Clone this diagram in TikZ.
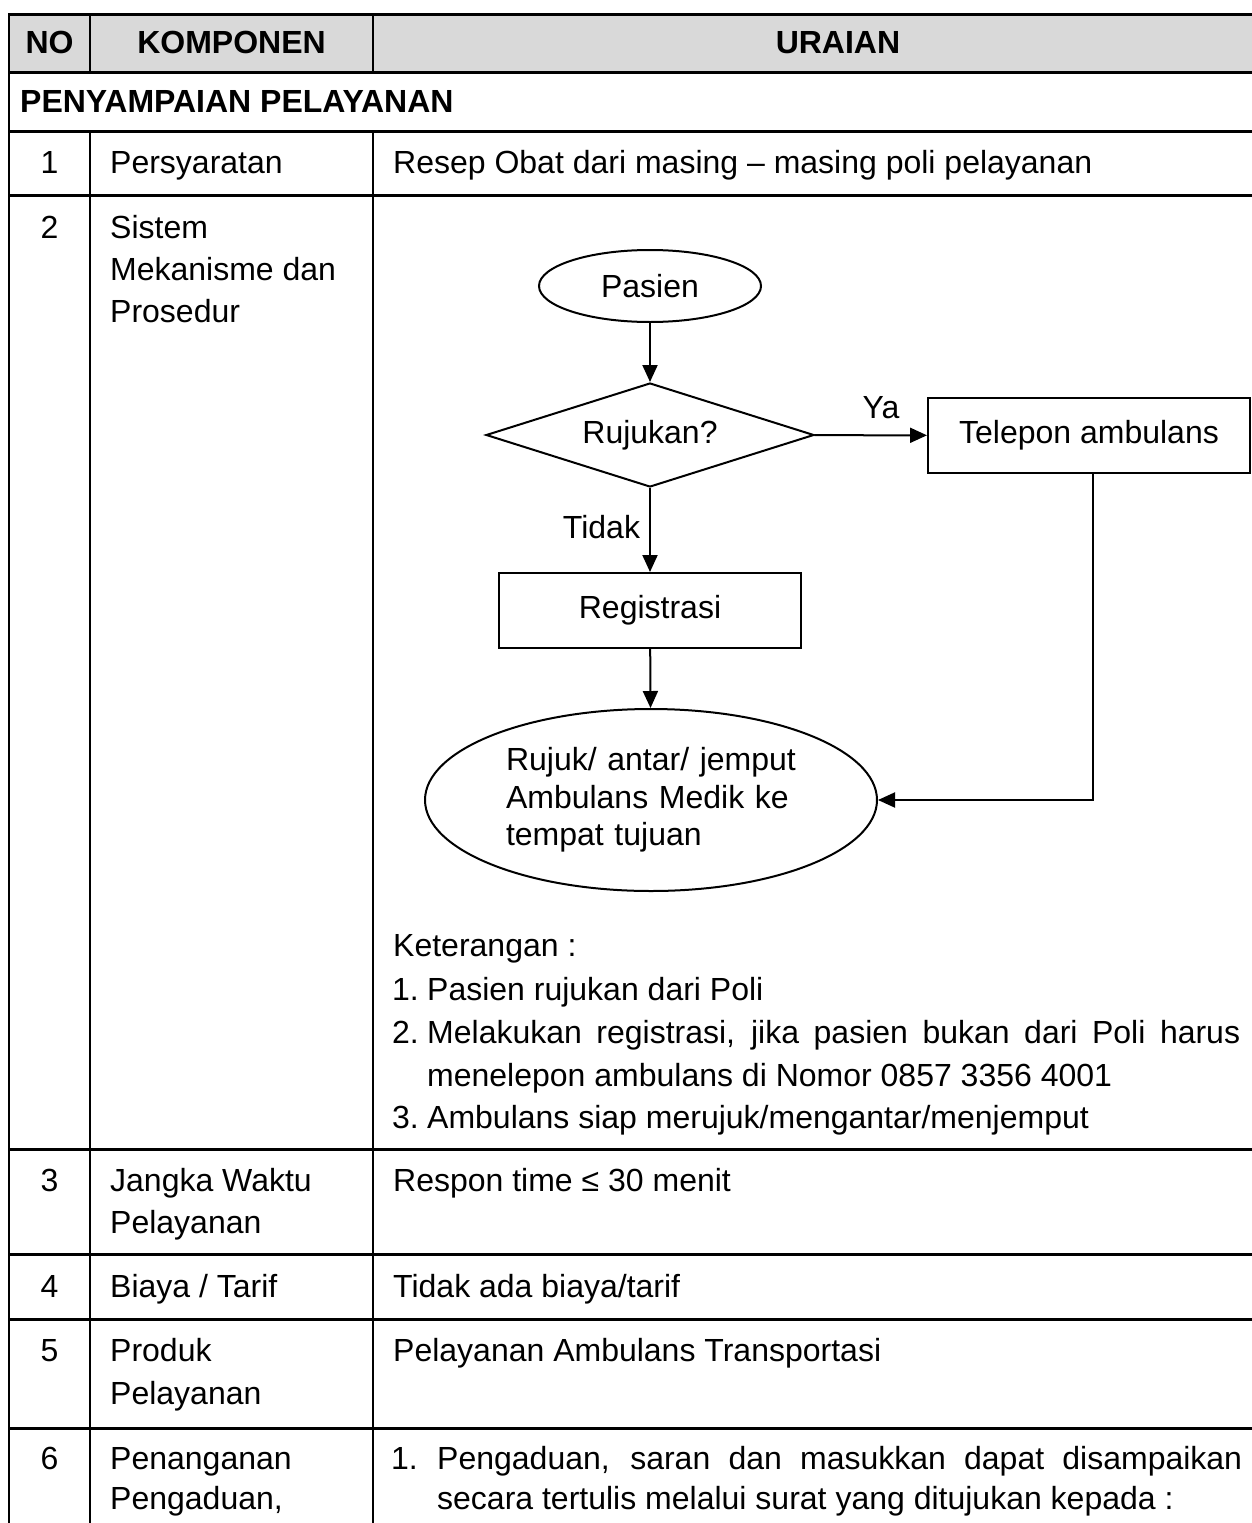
\documentclass[tikz,border=0pt]{standalone}
\usepackage{fontspec}
\setmainfont{Liberation Sans}
\usetikzlibrary{shapes.geometric,arrows.meta}
\definecolor{headgray}{HTML}{D9D9D9}

\begin{document}
\begin{tikzpicture}[x=1pt,y=-1pt,
  body/.style={inner sep=0pt, font=\fontsize{32pt}{37.5pt}\selectfont},
  txt/.style={body, anchor=base west},
  num/.style={body, anchor=base},
  hdr/.style={inner sep=0pt, anchor=base, font=\fontsize{32pt}{37.5pt}\selectfont\bfseries},
  hrule/.style={line width=3pt, line cap=rect},
  vrule/.style={line width=2.5pt},
  flowbox/.style={body, draw, line width=2pt, rectangle},
  flowoval/.style={body, draw, line width=2pt, ellipse},
  flowdec/.style={body, draw, line width=2pt, diamond, aspect=3.15},
  arr/.style={line width=2pt, -{Triangle[length=17pt,width=15pt]}},
]
\useasboundingbox (0,0) rectangle (1252,1523);

% header shading
\fill[headgray] (9,14) rectangle (1252,72);

% table rules
\foreach \yy in {14,72,131,195,1149,1254,1319,1428}
  \draw[hrule] (9,\yy) -- (1252,\yy);
\draw[vrule] (9,14) -- (9,1530);
\draw[vrule] (90,14) -- (90,72);
\draw[vrule] (90,131) -- (90,1530);
\draw[vrule] (373,14) -- (373,72);
\draw[vrule] (373,131) -- (373,1530);

% header row
\node[hdr] (hno) at (49.5,53) {NO};
\node[hdr] (hkomp) at (231.5,53) {KOMPONEN};
\node[hdr] (hurai) at (838,53) {URAIAN};

% section title
\node[txt, font=\fontsize{32pt}{37.5pt}\selectfont\bfseries] (sect) at (20,112) {PENYAMPAIAN PELAYANAN};

% row 1
\node[num] (n1) at (49.5,173) {1};
\node[txt] (k1) at (110,173) {Persyaratan};
\node[txt] (u1) at (393,173) {Resep Obat dari masing – masing poli pelayanan};

% row 2
\node[num] (n2) at (49.5,238) {2};
\node[txt] (k2a) at (110,238) {Sistem};
\node[txt] (k2b) at (110,280) {Mekanisme dan};
\node[txt] (k2c) at (110,322) {Prosedur};

% flowchart
\node[flowoval, minimum width=222pt, minimum height=72pt] (pasien) at (650,286) {Pasien};
\node[flowdec, minimum width=328pt, minimum height=104pt] (rujukan) at (650,435) {Rujukan?};
\node[flowbox, minimum width=322pt, minimum height=75pt] (tel) at (1089,435.5) {Telepon ambulans};
\node[flowbox, minimum width=302pt, minimum height=75pt] (reg) at (650,610.5) {Registrasi};
\node[flowoval, minimum width=452pt, minimum height=182pt, align=left, text width=290pt] (rujuk) at (651,800)
  {\makebox[290pt][s]{Rujuk/ antar/ jemput}\\
   \makebox[290pt][s]{Ambulans Medik ke}\\
   tempat tujuan};
\coordinate (bend) at (1093,800);

\draw[arr] (pasien) -- (rujukan);
\draw[arr] (rujukan) -- (tel) node[txt, pos=0.42, yshift=17pt] (ya) {Ya};
\draw[arr] (rujukan) -- (reg) node[body, anchor=base east, pos=0.5, xshift=-9pt, yshift=-8pt] (tidak) {Tidak};
\draw[arr] (reg) -- (rujuk);
\draw[arr] (tel.south -| bend) -- (bend) -- (rujuk.east);

% notes
\node[txt] (ket) at (393,956) {Keterangan :};
\node[txt] (ket1n) at (392,1000) {1.};
\node[txt] (ket1) at (427,1000) {Pasien rujukan dari Poli};
\node[txt] (ket2n) at (392,1043) {2.};
\node[txt] (ket2) at (427,1043) {\makebox[813pt][s]{Melakukan registrasi, jika pasien bukan dari Poli harus}};
\node[txt] (ket2b) at (427,1086) {menelepon ambulans di Nomor 0857 3356 4001};
\node[txt] (ket3n) at (392,1128) {3.};
\node[txt] (ket3) at (427,1128) {Ambulans siap merujuk/mengantar/menjemput};

% row 3
\node[num] (n3) at (49.5,1191) {3};
\node[txt] (k3a) at (110,1191) {Jangka Waktu};
\node[txt] (k3b) at (110,1233) {Pelayanan};
\node[txt] (u3) at (393,1191) {Respon time ≤ 30 menit};

% row 4
\node[num] (n4) at (49.5,1297) {4};
\node[txt] (k4) at (110,1297) {Biaya / Tarif};
\node[txt] (u4) at (393,1297) {Tidak ada biaya/tarif};

% row 5
\node[num] (n5) at (49.5,1361) {5};
\node[txt] (k5a) at (110,1361) {Produk};
\node[txt] (k5b) at (110,1404) {Pelayanan};
\node[txt] (u5) at (393,1361) {Pelayanan Ambulans Transportasi};

% row 6
\node[num] (n6) at (49.5,1469) {6};
\node[txt] (k6a) at (110,1469) {Penanganan};
\node[txt] (k6b) at (110,1509) {Pengaduan,};
\node[txt] (u6n) at (391,1469) {1.};
\node[txt] (u6a) at (437,1469) {\makebox[805pt][s]{Pengaduan, saran dan masukkan dapat disampaikan}};
\node[txt] (u6b) at (437,1509) {secara tertulis melalui surat yang ditujukan kepada :};
\end{tikzpicture}
\end{document}
